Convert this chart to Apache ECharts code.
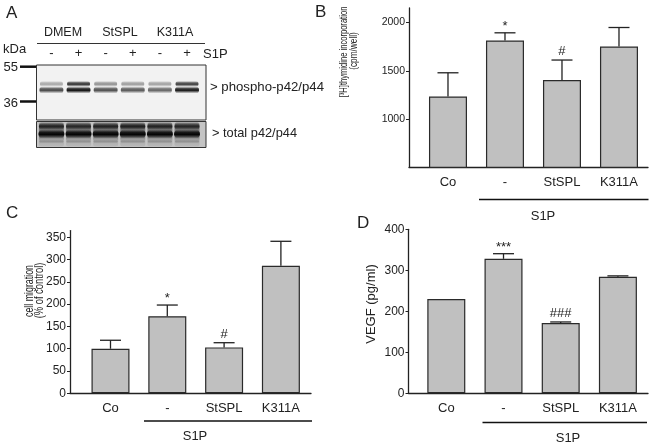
<!DOCTYPE html>
<html><head><meta charset="utf-8">
<script src="https://cdn.jsdelivr.net/npm/echarts@6/dist/echarts.min.js"></script>
<style>html,body{margin:0;padding:0;background:#fff}#c{width:662px;height:447px}</style>
</head><body><div id="c"></div>
<script>
// ---- data ----
const blotLanes = ['-', '+', '-', '+', '-', '+'];
const blotGroups = ['DMEM', 'StSPL', 'K311A'];
const phosphoUpper = [0.35, 0.9, 0.45, 0.4, 0.38, 0.85];
const phosphoLower = [0.75, 1.0, 0.72, 0.68, 0.62, 0.97];
const totalUpper = [0.85, 0.8, 0.85, 0.88, 0.85, 0.82];
const totalLower = [1, 1, 1, 1, 1, 1];

const categories = ['Co', '-', 'StSPL', 'K311A'];
const thymidine = [1234, 1814, 1404, 1751];
const thymidineSem = [245, 79, 207, 197];
const thymidineSig = ['', '*', '#', ''];
const migration = [100, 173, 103, 286];
const migrationSem = [19, 25, 10.5, 55];
const migrationSig = ['', '*', '#', ''];
const vegf = [230, 328, 171.5, 284.4];
const vegfSem = [0, 12.5, 2.5, 2];
const vegfSig = ['', '***', '###', ''];
const tickB = [1000, 1500, 2000];
const tickC = [0, 50, 100, 150, 200, 250, 300, 350];
const tickD = [0, 100, 200, 300, 400];

const FONT = 'Liberation Sans, Arial, sans-serif';
const INK = '#222';

const chart = echarts.init(document.getElementById('c'));

function xAxisFor(gi, min, max) {
  return {
    type: 'value', gridIndex: gi, min: min, max: max,
    axisLine: { show: true, onZero: false, lineStyle: { color: INK, width: 1.3 } },
    axisTick: { show: false },
    splitLine: { show: false },
    axisLabel: {
      customValues: [0, 1, 2, 3], margin: 9,
      formatter: v => categories[Math.round(v)] || '',
      fontFamily: FONT, fontSize: 13, color: INK
    }
  };
}
function yAxisFor(gi, min, max, ticks, fs) {
  return {
    type: 'value', gridIndex: gi, min: min, max: max,
    axisLine: { show: true, onZero: false, lineStyle: { color: INK, width: 1.3 } },
    axisTick: { show: true, customValues: ticks, length: 3, lineStyle: { color: INK, width: 1 } },
    splitLine: { show: false },
    axisLabel: { customValues: ticks, margin: 4, formatter: v => String(v), fontFamily: FONT, fontSize: fs, color: INK }
  };
}
function barSeries(gi, vals) {
  return {
    type: 'bar', xAxisIndex: gi, yAxisIndex: gi, barWidth: 38,
    data: vals.map((v, i) => [i, v]),
    itemStyle: { color: '#c0c0c0', borderColor: '#2a2a2a', borderWidth: 1.2 },
    silent: true, animation: false
  };
}
function errSeries(gi, vals, sem, sig) {
  return {
    type: 'custom', xAxisIndex: gi, yAxisIndex: gi, z: 5,
    data: vals.map((v, i) => [i, v, sem[i]]),
    renderItem: function (params, api) {
      const x = api.value(0), v = api.value(1), e = api.value(2);
      const p1 = api.coord([x, v]), p2 = api.coord([x, v + e]);
      const ch = [];
      if (e > 0) {
        ch.push({ type: 'line', shape: { x1: p1[0], y1: p1[1], x2: p2[0], y2: p2[1] }, style: { stroke: INK, lineWidth: 1.3 } });
        ch.push({ type: 'line', shape: { x1: p2[0] - 10.5, y1: p2[1], x2: p2[0] + 10.5, y2: p2[1] }, style: { stroke: INK, lineWidth: 1.3 } });
      }
      const s = sig[params.dataIndex];
      if (s) {
        const isStar = s.indexOf('*') >= 0;
        ch.push({ type: 'text', style: { text: s, x: p2[0], y: p2[1] + (isStar ? 0 : -2), align: 'center', verticalAlign: 'bottom', fontFamily: FONT, fontSize: 13, fill: INK } });
      }
      return { type: 'group', children: ch };
    },
    silent: true, animation: false
  };
}
function blotSeries() {
  return {
    type: 'custom', xAxisIndex: 0, yAxisIndex: 0, z: 3,
    data: blotLanes.map((l, i) => [i, phosphoUpper[i], phosphoLower[i], totalUpper[i], totalLower[i]]),
    renderItem: function (params, api) {
      const lane = api.value(0);
      const band = (row, h, w, a, col) => {
        const c = api.coord([lane, row]);
        return { type: 'rect', shape: { x: c[0] - w / 2, y: c[1] - h / 2, width: w, height: h, r: h / 2 },
          style: { fill: { type: 'linear', x: 0, y: 0, x2: 0, y2: 1, colorStops: [
            { offset: 0, color: 'rgba(' + col + ',0)' },
            { offset: 0.3, color: 'rgba(' + col + ',' + (a * 0.8) + ')' },
            { offset: 0.55, color: 'rgba(' + col + ',' + a + ')' },
            { offset: 1, color: 'rgba(' + col + ',0)' }] } } };
      };
      const top = api.coord([lane, 57.5]), bot = api.coord([lane, 81.5]);
      return { type: 'group', children: [
        { type: 'rect', shape: { x: top[0] - 12.5, y: top[1], width: 25, height: bot[1] - top[1], r: 2 },
          style: { fill: { type: 'linear', x: 0, y: 0, x2: 0, y2: 1, colorStops: [
            { offset: 0, color: 'rgba(70,70,70,0.5)' }, { offset: 0.55, color: 'rgba(50,50,50,0.6)' },
            { offset: 0.75, color: 'rgba(90,90,90,0.25)' }, { offset: 1, color: 'rgba(120,120,120,0.15)' }] } } },
        band(19, 6, 23, api.value(1), '30,30,30'),
        band(25, 7, 24, api.value(2), '15,15,15'),
        band(61.5, 7, 25, api.value(3), '15,15,15'),
        band(69, 9, 26, api.value(4), '5,5,5'),
        band(76.5, 4, 24, 0.25, '60,60,60')
      ] };
    },
    silent: true, animation: false
  };
}

function txt(x, y, s, fs, align, extra) {
  return Object.assign({ type: 'text', x: x, y: y,
    style: { text: s, align: align || 'center', verticalAlign: 'middle', fontFamily: FONT, fontSize: fs, fill: INK } }, extra || {});
}

const graphic = [
  // blot backgrounds & frames
  { type: 'rect', z: 0, shape: { x: 36.5, y: 65, width: 169.5, height: 55 }, style: { fill: '#f2f2f2' } },
  { type: 'rect', z: 0, shape: { x: 36.5, y: 121.5, width: 169.5, height: 26 }, style: { fill: '#c4c4c4' } },
  { type: 'rect', z: 10, shape: { x: 36.5, y: 65, width: 169.5, height: 55 }, style: { fill: 'none', stroke: '#333', lineWidth: 1 } },
  { type: 'rect', z: 10, shape: { x: 36.5, y: 121.5, width: 169.5, height: 26 }, style: { fill: 'none', stroke: '#333', lineWidth: 1 } },
  // blot header
  txt(63, 33, blotGroups[0], 12.5), txt(120, 33, blotGroups[1], 12.5), txt(175, 33, blotGroups[2], 12.5),
  { type: 'line', shape: { x1: 37, y1: 43.5, x2: 205, y2: 43.5 }, style: { stroke: '#333', lineWidth: 1 } },
  txt(203, 54, 'S1P', 13, 'left'),
  txt(3, 49, 'kDa', 13, 'left'),
  txt(18, 67, '55', 13, 'right'),
  txt(18, 103.5, '36', 13, 'right'),
  { type: 'line', shape: { x1: 20, y1: 66.7, x2: 36, y2: 66.7 }, style: { stroke: '#111', lineWidth: 2.5 } },
  { type: 'line', shape: { x1: 20, y1: 101.5, x2: 36, y2: 101.5 }, style: { stroke: '#111', lineWidth: 2.5 } },
  txt(210, 87, '> phospho-p42/p44', 13.2, 'left'),
  txt(212, 133.5, '> total p42/p44', 12.8, 'left'),
  // panel letters
  txt(6, 13, 'A', 17, 'left'), txt(315, 12.5, 'B', 17, 'left'),
  txt(6, 213, 'C', 17, 'left'), txt(357, 223, 'D', 17, 'left'),
  // axis titles
  txt(343.5, 52, '[³H]thymidine incorporation', 11.5, 'center', { rotation: Math.PI / 2, scaleX: 0.66 }),
  txt(354, 51, '(cpm/well)', 11.5, 'center', { rotation: Math.PI / 2, scaleX: 0.72 }),
  txt(29, 291, 'cell migration', 13, 'center', { rotation: Math.PI / 2, scaleX: 0.68 }),
  txt(39.5, 290.5, '(% of control)', 13, 'center', { rotation: Math.PI / 2, scaleX: 0.72 }),
  txt(371, 304, 'VEGF (pg/ml)', 13, 'center', { rotation: Math.PI / 2 }),
  // S1P group lines
  { type: 'line', shape: { x1: 479, y1: 199.5, x2: 648.5, y2: 199.5 }, style: { stroke: '#111', lineWidth: 1.5 } },
  txt(543, 216, 'S1P', 13),
  { type: 'line', shape: { x1: 144, y1: 421, x2: 312, y2: 421 }, style: { stroke: '#111', lineWidth: 1.5 } },
  txt(195, 436, 'S1P', 13),
  { type: 'line', shape: { x1: 482.5, y1: 422.5, x2: 647, y2: 422.5 }, style: { stroke: '#111', lineWidth: 1.5 } },
  txt(568, 438, 'S1P', 13)
];

const option = {
  animation: false,
  backgroundColor: '#fff',
  grid: [
    { left: 36.5, top: 65, width: 169.5, height: 82.3 },
    { left: 409, top: 8, width: 239, height: 159.3 },
    { left: 70, top: 230.6, width: 241, height: 162.7 },
    { left: 408.5, top: 229.3, width: 239.5, height: 164 }
  ],
  xAxis: [
    { type: 'value', gridIndex: 0, min: -0.55, max: 5.7, position: 'top',
      axisLine: { show: false }, axisTick: { show: false }, splitLine: { show: false },
      axisLabel: { customValues: [0, 1, 2, 3, 4, 5], margin: 5, formatter: v => blotLanes[Math.round(v)] || '',
        fontFamily: FONT, fontSize: 13, color: INK } },
    xAxisFor(1, -0.684, 3.509),
    xAxisFor(2, -0.713, 3.53),
    xAxisFor(3, -0.661, 3.526)
  ],
  yAxis: [
    { type: 'value', gridIndex: 0, min: 0, max: 82.3, inverse: true, show: false },
    yAxisFor(1, 500, 2150, tickB, 10.5),
    yAxisFor(2, 0, 365, tickC, 12),
    yAxisFor(3, 0, 400, tickD, 12)
  ],
  series: [
    blotSeries(),
    barSeries(1, thymidine), errSeries(1, thymidine, thymidineSem, thymidineSig),
    barSeries(2, migration), errSeries(2, migration, migrationSem, migrationSig),
    barSeries(3, vegf), errSeries(3, vegf, vegfSem, vegfSig)
  ],
  graphic: graphic
};
chart.setOption(option);
</script></body></html>
